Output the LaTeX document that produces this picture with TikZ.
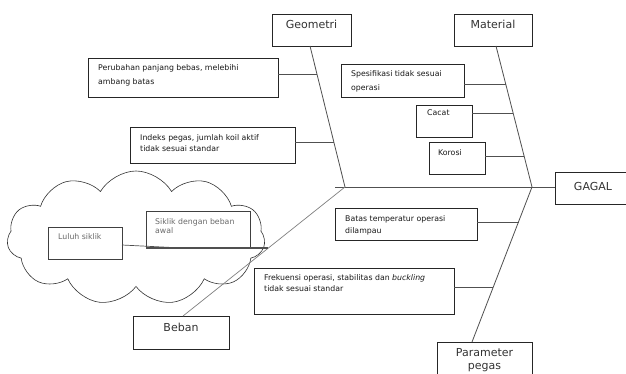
\documentclass[tikz,border=0pt]{standalone}
\usepackage{fontspec}
\setmainfont{DejaVu Sans}
\usetikzlibrary{shapes.symbols,calc}
\definecolor{linegray}{HTML}{505050}
\definecolor{lightline}{HTML}{808080}
\definecolor{txtgray}{HTML}{6A6A6A}
\begin{document}
\begin{tikzpicture}[x=1pt,y=-1pt,
  box/.style={draw=black!85, line width=0.8pt, rectangle, inner sep=0pt, outer sep=0pt, anchor=north west},
  title/.style={font=\fontsize{11}{13}\selectfont, inner sep=0pt, anchor=base, text=black!80},
  body/.style={font=\fontsize{7.8}{#1}\selectfont, inner sep=0pt, anchor=north west, align=left, text=black!90},
  body/.default=14,
  spine/.style={draw=linegray, line width=0.8pt},
  branch/.style={draw=linegray, line width=0.7pt},
]
\clip (0,0) rectangle (626,374);
\fill[white] (0,0) rectangle (626,374);

% cloud
\node[cloud, cloud puffs=11, cloud puff arc=120, cloud ignores aspect, draw=black!80, line width=0.6pt,
      minimum width=258pt, minimum height=134pt, inner sep=0pt] (cl) at (136,238) {};

% head and category boxes
\node[box, minimum width=79pt, minimum height=32pt] (geo) at (272,14) {};
\node[title] (geot) at (311.5,29) {Geometri};
\node[box, minimum width=78pt, minimum height=32pt] (mat) at (454,14) {};
\node[title] (matt) at (493,29) {Material};
\node[box, minimum width=80pt, minimum height=32pt] (gag) at (555,172) {};
\node[title] (gagt) at (593,191) {GAGAL};
\node[box, minimum width=96pt, minimum height=33pt] (beb) at (133,316) {};
\node[title] (bebt) at (181,331) {Beban};
\node[box, minimum width=95pt, minimum height=40pt] (par) at (437,342) {};
\node[title] (part1) at (484.5,356) {Parameter};
\node[title] (part2) at (484.5,369) {pegas};

% cause boxes
\node[box, minimum width=190pt, minimum height=39pt] (p1) at (88,58) {};
\node[body=14] (p1t) at (98,64) {Perubahan panjang bebas, melebihi\\ambang batas};
\node[box, minimum width=165pt, minimum height=36pt] (p2) at (130,127) {};
\node[body=11] (p2t) at (140,134) {Indeks pegas, jumlah koil aktif\\tidak sesuai standar};
\node[box, minimum width=123pt, minimum height=33pt] (m1b) at (341,64) {};
\node[body=14] (m1t) at (351,70) {Spesifikasi tidak sesuai\\operasi};
\node[box, minimum width=56pt, minimum height=32pt] (m2b) at (416,105) {};
\node[body] (m2t) at (427,110) {Cacat};
\node[box, minimum width=56pt, minimum height=32pt] (m3b) at (429,142) {};
\node[body] (m3t) at (438,149) {Korosi};
\node[box, minimum width=142pt, minimum height=32pt] (q1b) at (335,208) {};
\node[body=12] (q1t) at (345,215) {Batas temperatur operasi\\dilampau};
\node[box, minimum width=200pt, minimum height=46pt] (q2b) at (254,268) {};
\node[body=11] (q2t) at (264,274) {Frekuensi operasi, stabilitas dan \textit{buckling}\\tidak sesuai standar};

% cloud boxes
\node[box, draw=black!75, minimum width=74pt, minimum height=32pt] (lul) at (48,227) {};
\node[body, text=txtgray] (lult) at (58,233) {Luluh siklik};
\node[box, draw=black!75, minimum width=104pt, minimum height=37pt] (sik) at (146,211) {};
\node[body=9, text=txtgray] (sikt) at (155,218) {Siklik dengan beban\\awal};

% junctions
\coordinate (j1) at (345,187);
\coordinate (j0) at (335,187);
\coordinate (j2) at (532,187);

% spines
\draw[spine] (j0) -- (gag.west |- j0);
\draw[spine] (geo.south) ++(-1.5,0) -- (j1);
\draw[spine] ([xshift=3pt]mat.south) -- (j2);
\draw[spine] (j2) -- ([xshift=-12.5pt]par.north);
\draw[draw=lightline, line width=0.7pt] (j1) -- ([xshift=2pt]beb.north);

% branch points on spines
\coordinate (g1) at (317,74);
\coordinate (g2) at (333.8,142);
\coordinate (m1) at (505.8,84);
\coordinate (m2) at (513.2,113);
\coordinate (m3) at (524.3,156);
\coordinate (q1) at (518.5,222);
\coordinate (q2) at (493.3,287);
\coordinate (bb) at (267.8,248);
\coordinate (lj) at (182,248);

\draw[branch] (g1) -- (g1 -| p1.east);
\draw[branch] (g2) -- (g2 -| p2.east);
\draw[branch] (m1) -- (m1 -| m1b.east);
\draw[branch] (m2) -- (m2 -| m2b.east);
\draw[branch] (m3) -- (m3 -| m3b.east);
\draw[branch] (q1) -- (q1 -| q1b.east);
\draw[branch] (q2) -- (q2 -| q2b.east);

% cloud connectors
\draw[draw=linegray, line width=1.2pt] (sik.south west) -- (sik.south west -| bb) -- (bb);
\draw[draw=linegray, line width=0.7pt] ([yshift=-2pt]lul.east) -- (lj);
\end{tikzpicture}
\end{document}
